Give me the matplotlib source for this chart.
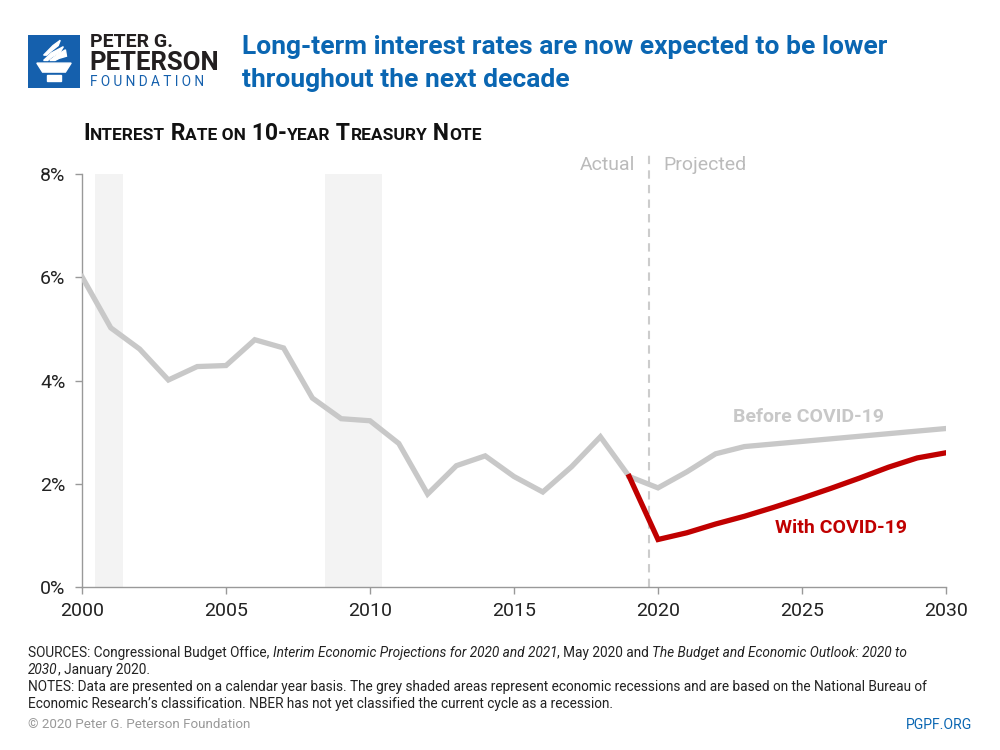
import numpy as np
import matplotlib
matplotlib.use("Agg")
import matplotlib.pyplot as plt
from matplotlib.patches import Polygon, Rectangle
from matplotlib.offsetbox import TextArea, HPacker, AnnotationBbox

plt.rcParams['font.family'] = ['Roboto', 'DejaVu Sans']

years_actual = list(range(2000, 2020))
rate_actual = [6.01, 5.02, 4.61, 4.01, 4.27, 4.29, 4.79, 4.63, 3.66, 3.26,
               3.22, 2.78, 1.80, 2.35, 2.54, 2.14, 1.84, 2.33, 2.91, 2.14]
years_proj = list(range(2019, 2031))
rate_before = [2.14, 1.92, 2.23, 2.58, 2.72, 2.77, 2.82, 2.87, 2.92, 2.97, 3.02, 3.07]
rate_covid = [2.14, 0.92, 1.05, 1.22, 1.37, 1.54, 1.72, 1.91, 2.11, 2.32, 2.50, 2.60]
recessions = [(2000.45, 2001.42), (2008.45, 2010.42)]
yticks = [0, 2, 4, 6, 8]
xticks = [2000, 2005, 2010, 2015, 2020, 2025, 2030]

BLUE = '#0a66b2'
GREY = '#c8c8c8'
RED = '#c00000'
INK = '#222222'

fig = plt.figure(figsize=(10, 7.5), dpi=100)
ax = fig.add_axes([0.082, 1 - 587 / 750, 0.864, 413 / 750])

for a, b in recessions:
    ax.axvspan(a, b, ymin=0, ymax=1, color='#f3f3f3', lw=0, zorder=0)

ax.axvline(2019.7, ymin=0, ymax=1.047, color='#cccccc', lw=1.5,
           ls=(0, (4, 3)), clip_on=False, zorder=1)

ax.plot(years_actual, rate_actual, color=GREY, lw=3.8, solid_joinstyle='miter', zorder=3)
ax.plot(years_proj, rate_before, color=GREY, lw=3.8, solid_joinstyle='miter', zorder=3)
ax.plot(years_proj, rate_covid, color=RED, lw=3.8, solid_joinstyle='miter', zorder=4)

ax.set_xlim(2000, 2030)
ax.set_ylim(0, 8)
ax.set_xticks(xticks)
ax.set_yticks(yticks)
ax.set_yticklabels([f'{v}%' for v in yticks])
for s in ['top', 'right']:
    ax.spines[s].set_visible(False)
for s in ['left', 'bottom']:
    ax.spines[s].set_color('#999999')
    ax.spines[s].set_linewidth(1)
ax.tick_params(axis='both', colors='#999999', labelcolor=INK, labelsize=14,
               length=5, width=1)
ax.tick_params(axis='x', pad=6)
ax.tick_params(axis='y', pad=7)
ax.patch.set_alpha(0)

ax.text(2022.6, 3.3, 'Before COVID-19', color=GREY, fontsize=14,
        fontweight='bold', ha='left', va='center')
ax.text(2024.05, 1.15, 'With COVID-19', color=RED, fontsize=14,
        fontweight='bold', ha='left', va='center')

fig.text(635 / 1000, 1 - 165 / 750, 'Actual', color='#bbbbbb', fontsize=14,
         ha='right', va='center')
fig.text(663 / 1000, 1 - 165 / 750, 'Projected', color='#bbbbbb', fontsize=14,
         ha='left', va='center')

# title
fig.text(242 / 1000, 1 - 47 / 750, 'Long-term interest rates are now expected to be lower',
         color=BLUE, fontsize=19, fontweight='bold', ha='left', va='center')
fig.text(242 / 1000, 1 - 80 / 750, 'throughout the next decade',
         color=BLUE, fontsize=19, fontweight='bold', ha='left', va='center')


def packed(parts, x, y, color=INK, weight='normal'):
    # parts: list of (text, size, style)
    areas = [TextArea(t, textprops=dict(fontsize=s, fontstyle=st, fontweight=weight,
                                        color=color))
             for t, s, st in parts]
    pack = HPacker(children=areas, align='baseline', pad=0, sep=0)
    ab = AnnotationBbox(pack, (x, 750 - y), xycoords='figure pixels',
                        box_alignment=(0, 0.5), frameon=False)
    fig.add_artist(ab)


# subtitle in small caps
big, small = 16.5, 12.5
packed([('I', big, 'normal'), ('NTEREST', small, 'normal'), (' R', big, 'normal'),
        ('ATE ON', small, 'normal'), (' 10-', big, 'normal'), ('YEAR', small, 'normal'),
        (' T', big, 'normal'), ('REASURY', small, 'normal'), (' N', big, 'normal'),
        ('OTE', small, 'normal')], 83, 133, color='#111111', weight='bold')

# logo
lax = fig.add_axes([0.028, 1 - 88 / 750, 0.052, 53 / 750])
lax.set_xlim(0, 1)
lax.set_ylim(0, 1)
lax.axis('off')
lax.add_patch(Rectangle((0, 0), 1, 1, color='#1560ad'))
lax.add_patch(Polygon([[0.17, 0.47], [0.83, 0.47], [0.72, 0.3], [0.28, 0.3]], color='white'))
lax.add_patch(Rectangle((0.36, 0.13), 0.28, 0.12, color='white'))
lax.add_patch(Polygon([[0.3, 0.52], [0.45, 0.66], [0.68, 0.78], [0.62, 0.68],
                       [0.45, 0.58], [0.38, 0.52]], color='white'))
lax.add_patch(Polygon([[0.42, 0.52], [0.58, 0.64], [0.72, 0.72], [0.74, 0.6],
                       [0.6, 0.56], [0.52, 0.52]], color='white'))
lax.add_patch(Polygon([[0.3, 0.62], [0.48, 0.8], [0.62, 0.9], [0.58, 0.8],
                       [0.45, 0.7], [0.36, 0.62]], color='white'))

fig.text(90 / 1000, 1 - 42 / 750, 'PETER G.', color='#231f20', fontsize=14,
         fontweight='bold', ha='left', va='center')
fig.text(89 / 1000, 1 - 63 / 750, 'PETERSON', color='#231f20', fontsize=18.5,
         fontweight='bold', ha='left', va='center')
fig.text(90 / 1000, 1 - 82 / 750, 'F O U N D A T I O N', color='#1560ad', fontsize=9.8,
         ha='left', va='center')

# footer
fs = 9.8
packed([('SOURCES: Congressional Budget Office, ', fs, 'normal'),
        ('Interim Economic Projections for 2020 and 2021', fs, 'italic'),
        (', May 2020 and ', fs, 'normal'),
        ('The Budget and Economic Outlook: 2020 to', fs, 'italic')], 28, 653)
packed([('2030', fs, 'italic'), (', January 2020.', fs, 'normal')], 28, 670)
fig.text(28 / 1000, 1 - 687 / 750,
         'NOTES: Data are presented on a calendar year basis. The grey shaded areas represent '
         'economic recessions and are based on the National Bureau of',
         fontsize=fs, color=INK, ha='left', va='center')
fig.text(28 / 1000, 1 - 704 / 750,
         'Economic Research\u2019s classification. NBER has not yet classified the current cycle as a recession.',
         fontsize=fs, color=INK, ha='left', va='center')
fig.text(28 / 1000, 1 - 725 / 750, '\u00a9 2020 Peter G. Peterson Foundation',
         fontsize=9.6, color='#999999', ha='left', va='center')
fig.text(972 / 1000, 1 - 725 / 750, 'PGPF.ORG', fontsize=10.1, color=BLUE,
         ha='right', va='center')

fig.savefig('out.png', dpi=100)
